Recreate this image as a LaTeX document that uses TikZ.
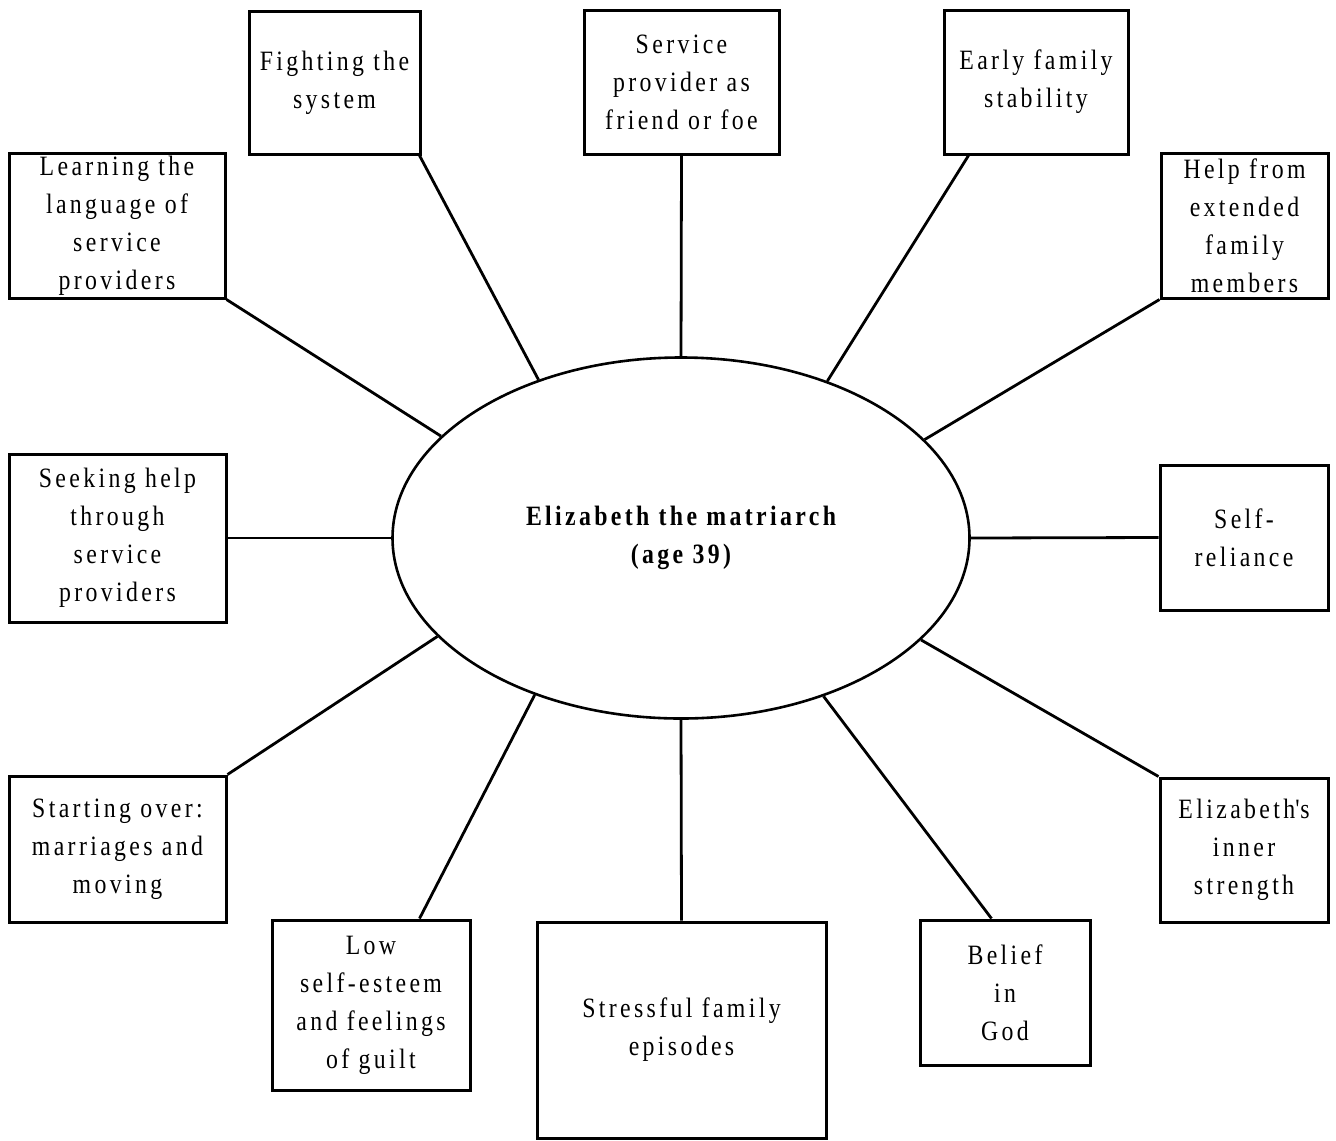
\documentclass[tikz,border=0pt]{standalone}
\usepackage{fontspec}
\setmainfont{Liberation Serif}[FakeStretch=0.85,LetterSpace=12]
\usetikzlibrary{calc,shapes.geometric}
\begin{document}
\begin{tikzpicture}[x=0.5pt,y=-0.5pt,
  topic/.style={draw,line width=1.5pt,inner sep=0pt,align=center,
    font=\fontsize{14}{19}\selectfont},
  link/.style={line width=1.4pt}]
\useasboundingbox (0,0) rectangle (1336,1140);

% central ellipse
\node[ellipse,draw,line width=1.3pt,minimum width=288.5pt,minimum height=180.5pt,
  inner sep=0pt,align=center,font=\fontsize{14}{19}\selectfont\bfseries] (core) at (681,538)
  {Elizabeth the matriarch\\(age 39)};

% surrounding topics
\node[topic,minimum width=108pt,minimum height=72.5pt] (learn) at (117,225.5)
  {Learning the\\language of\\service\\providers};
\node[topic,minimum width=85.5pt,minimum height=71.5pt] (fight) at (334.5,82.5)
  {Fighting the\\system};
\node[topic,minimum width=97.5pt,minimum height=72pt] (serv) at (681.5,82)
  {Service\\provider as\\friend or foe};
\node[topic,minimum width=92pt,minimum height=72pt] (early) at (1036,82)
  {Early family\\stability};
\node[topic,minimum width=83.5pt,minimum height=72.5pt] (help) at (1244.5,225.5)
  {Help from\\extended\\family\\members};
\node[topic,minimum width=108.5pt,minimum height=84pt] (seek) at (117.5,538)
  {Seeking help\\through\\service\\providers};
\node[topic,minimum width=84pt,minimum height=72.5pt] (self) at (1244,537.5)
  {Self-\\reliance};
\node[topic,minimum width=108.5pt,minimum height=73pt] (start) at (117.5,849)
  {Starting over:\\marriages and\\moving};
\node[topic,minimum width=99pt,minimum height=85pt] (low) at (371,1005)
  {Low\\self-esteem\\and feelings\\of guilt};
\node[topic,minimum width=144.5pt,minimum height=108pt] (stress) at (681.5,1030)
  {Stressful family\\episodes};
\node[topic,minimum width=85pt,minimum height=72.5pt] (belief) at (1005,992.5)
  {Belief\\in\\God};
\node[topic,minimum width=84pt,minimum height=72pt] (inner) at (1244,850)
  {Elizabeth\textquotesingle s\\inner\\strength};

% spokes
\draw[link] (learn.south east) -- (core.157.8);
\draw[link] ($(fight.south east)+(-2,0)$) -- (core.132.5);
\draw[link] (serv.south) -- (core.north);
\draw[link] ($(early.south west)+(26,0)$) -- (core.47.3);
\draw[link] (help.south west) -- (core.22.2);
\draw[link] (seek.east) -- (core.west);
\draw[link] (core.east) -- (self.west);
\draw[link] (start.north east) -- (core.202.2);
\draw[link] ($(low.north east)+(-52,0)$) -- (core.227.5);
\draw[link] (core.south) -- (stress.north);
\draw[link] ($(belief.north west)+(73,0)$) -- (core.312.7);
\draw[link] (inner.north west) -- (core.337.8);
\end{tikzpicture}
\end{document}
